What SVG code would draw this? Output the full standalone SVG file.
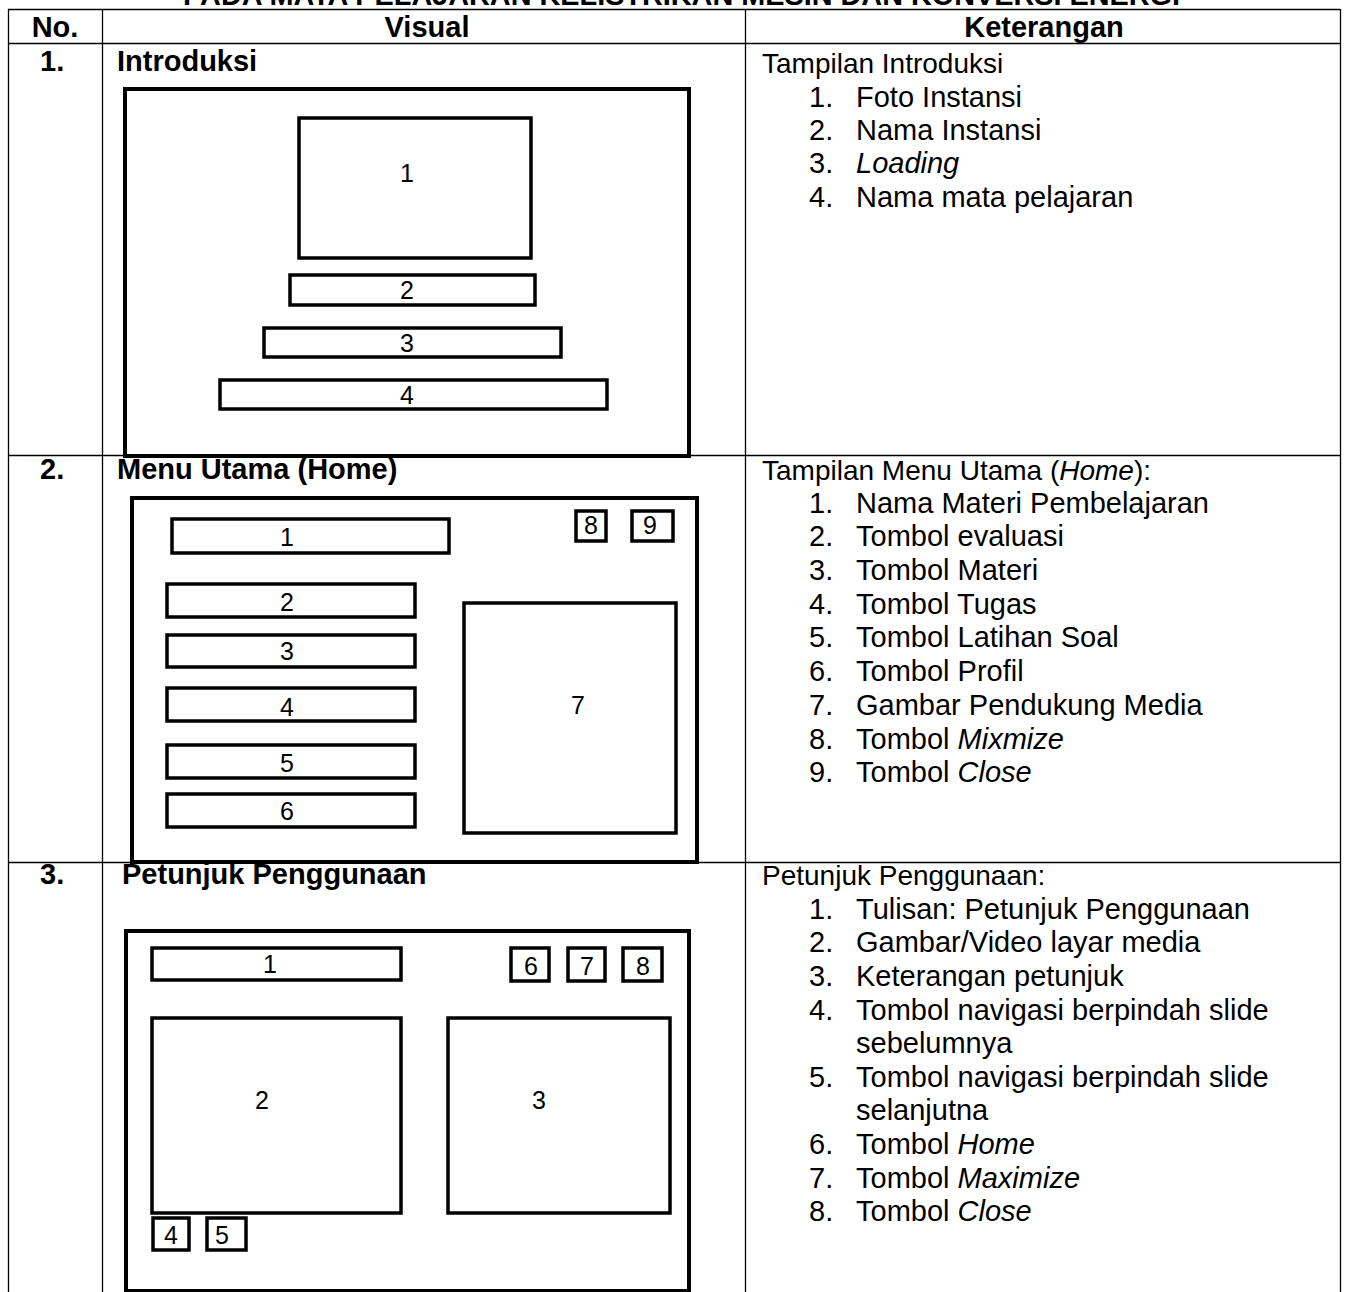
<svg xmlns="http://www.w3.org/2000/svg" width="1347" height="1292" viewBox="0 0 1347 1292">
  <style>
    text { font-family: "Liberation Sans", Arial, sans-serif; font-size: 29px; fill: #000; }
    .b { font-weight: bold; }
    .i { font-style: italic; }
    .lead { font-size: 28px; }
    .num { font-size: 25px; text-anchor: middle; }
    .c { text-anchor: middle; }
    .grid { stroke: #000; stroke-width: 1.3; fill: none; }
    .frame { stroke: #000; stroke-width: 4; fill: none; }
    .box { stroke: #000; stroke-width: 3.5; fill: #fff; }
  </style>
  <rect width="1347" height="1292" fill="#fff"/>

  <!-- title, clipped by the top edge -->
  <text class="b" x="183" y="5" textLength="997" lengthAdjust="spacingAndGlyphs">PADA MATA PELAJARAN KELISTRIKAN MESIN DAN KONVERSI ENERGI</text>

  <!-- table grid -->
  <g id="table" class="grid">
    <line x1="8" y1="9.5" x2="1340" y2="9.5"/>
    <line x1="8" y1="43.5" x2="1340" y2="43.5"/>
    <line x1="8" y1="455.5" x2="1340" y2="455.5"/>
    <line x1="8" y1="862.5" x2="1340" y2="862.5"/>
    <line x1="8.5" y1="9" x2="8.5" y2="1292"/>
    <line x1="102.5" y1="9" x2="102.5" y2="1292"/>
    <line x1="745.5" y1="9" x2="745.5" y2="1292"/>
    <line x1="1340.5" y1="9" x2="1340.5" y2="1292"/>
  </g>

  <!-- header row -->
  <g id="header">
    <text class="b c" x="55" y="37">No.</text>
    <text class="b c" x="427" y="37">Visual</text>
    <text class="b c" x="1044" y="37">Keterangan</text>
  </g>

  <!-- row 1: Introduksi -->
  <g id="row1">
    <text class="b" x="40" y="71">1.</text>
    <text class="b" x="117" y="71">Introduksi</text>
    <g id="intro-screen">
      <rect class="frame" x="125" y="89" width="564" height="367"/>
      <rect class="box" x="299" y="118" width="232" height="140"/>
      <text class="num" x="407" y="182">1</text>
      <rect class="box" x="290" y="275" width="245" height="30"/>
      <text class="num" x="407" y="299">2</text>
      <rect class="box" x="264" y="328" width="297" height="29"/>
      <text class="num" x="407" y="352">3</text>
      <rect class="box" x="220" y="380" width="387" height="29"/>
      <text class="num" x="407" y="404">4</text>
    </g>
    <g id="intro-notes">
      <text class="lead" x="762" y="73">Tampilan Introduksi</text>
      <text x="809" y="107">1.</text>
      <text x="856" y="107">Foto Instansi</text>
      <text x="809" y="140">2.</text>
      <text x="856" y="140">Nama Instansi</text>
      <text x="809" y="173">3.</text>
      <text class="i" x="856" y="173">Loading</text>
      <text x="809" y="207">4.</text>
      <text x="856" y="207">Nama mata pelajaran</text>
    </g>
  </g>

  <!-- row 2: Menu Utama -->
  <g id="row2">
    <text class="b" x="40" y="479">2.</text>
    <text class="b" x="117" y="479">Menu Utama (Home)</text>
    <g id="home-screen">
      <rect class="frame" x="132" y="498" width="565" height="364"/>
      <rect class="box" x="172" y="519" width="277" height="34"/>
      <text class="num" x="287" y="546">1</text>
      <rect class="box" x="576" y="511" width="30" height="30"/>
      <text class="num" x="591" y="534">8</text>
      <rect class="box" x="632" y="511" width="41" height="30"/>
      <text class="num" x="650" y="534">9</text>
      <rect class="box" x="167" y="584" width="248" height="33"/>
      <text class="num" x="287" y="611">2</text>
      <rect class="box" x="167" y="635" width="248" height="32"/>
      <text class="num" x="287" y="660">3</text>
      <rect class="box" x="167" y="688" width="248" height="33"/>
      <text class="num" x="287" y="716">4</text>
      <rect class="box" x="167" y="745" width="248" height="33"/>
      <text class="num" x="287" y="772">5</text>
      <rect class="box" x="167" y="794" width="248" height="33"/>
      <text class="num" x="287" y="820">6</text>
      <rect class="box" x="464" y="603" width="212" height="230"/>
      <text class="num" x="578" y="714">7</text>
    </g>
    <g id="home-notes">
      <text class="lead" x="762" y="480">Tampilan Menu Utama (<tspan class="i">Home</tspan>):</text>
      <text x="809" y="513">1.</text>
      <text x="856" y="513">Nama Materi Pembelajaran</text>
      <text x="809" y="546">2.</text>
      <text x="856" y="546">Tombol evaluasi</text>
      <text x="809" y="580">3.</text>
      <text x="856" y="580">Tombol Materi</text>
      <text x="809" y="614">4.</text>
      <text x="856" y="614">Tombol Tugas</text>
      <text x="809" y="647">5.</text>
      <text x="856" y="647">Tombol Latihan Soal</text>
      <text x="809" y="681">6.</text>
      <text x="856" y="681">Tombol Profil</text>
      <text x="809" y="715">7.</text>
      <text x="856" y="715">Gambar Pendukung Media</text>
      <text x="809" y="749">8.</text>
      <text x="856" y="749">Tombol <tspan class="i">Mixmize</tspan></text>
      <text x="809" y="782">9.</text>
      <text x="856" y="782">Tombol <tspan class="i">Close</tspan></text>
    </g>
  </g>

  <!-- row 3: Petunjuk Penggunaan -->
  <g id="row3">
    <text class="b" x="40" y="884">3.</text>
    <text class="b" x="122" y="884">Petunjuk Penggunaan</text>
    <g id="guide-screen">
      <rect class="frame" x="126" y="931" width="563" height="360"/>
      <rect class="box" x="152" y="948" width="249" height="32"/>
      <text class="num" x="270" y="973">1</text>
      <rect class="box" x="511" y="948" width="38" height="33"/>
      <text class="num" x="531" y="975">6</text>
      <rect class="box" x="568" y="948" width="37" height="33"/>
      <text class="num" x="587" y="975">7</text>
      <rect class="box" x="623" y="948" width="39" height="33"/>
      <text class="num" x="643" y="975">8</text>
      <rect class="box" x="152" y="1018" width="249" height="195"/>
      <text class="num" x="262" y="1109">2</text>
      <rect class="box" x="448" y="1018" width="222" height="195"/>
      <text class="num" x="539" y="1109">3</text>
      <rect class="box" x="153" y="1218" width="36" height="32"/>
      <text class="num" x="171" y="1244">4</text>
      <rect class="box" x="207" y="1218" width="39" height="32"/>
      <text class="num" x="222" y="1244">5</text>
    </g>
    <g id="guide-notes">
      <text class="lead" x="762" y="885">Petunjuk Penggunaan:</text>
      <text x="809" y="919">1.</text>
      <text x="856" y="919">Tulisan: Petunjuk Penggunaan</text>
      <text x="809" y="952">2.</text>
      <text x="856" y="952">Gambar/Video layar media</text>
      <text x="809" y="986">3.</text>
      <text x="856" y="986">Keterangan petunjuk</text>
      <text x="809" y="1020">4.</text>
      <text x="856" y="1020">Tombol navigasi berpindah slide</text>
      <text x="856" y="1053">sebelumnya</text>
      <text x="809" y="1087">5.</text>
      <text x="856" y="1087">Tombol navigasi berpindah slide</text>
      <text x="856" y="1120">selanjutna</text>
      <text x="809" y="1154">6.</text>
      <text x="856" y="1154">Tombol <tspan class="i">Home</tspan></text>
      <text x="809" y="1188">7.</text>
      <text x="856" y="1188">Tombol <tspan class="i">Maximize</tspan></text>
      <text x="809" y="1221">8.</text>
      <text x="856" y="1221">Tombol <tspan class="i">Close</tspan></text>
    </g>
  </g>
</svg>
